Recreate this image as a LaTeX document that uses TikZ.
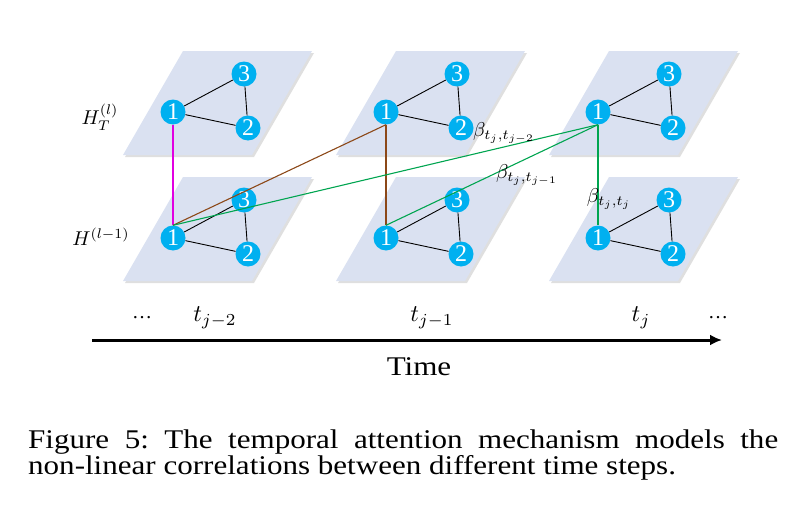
\documentclass[tikz,border=0pt]{standalone}
\usepackage{graphicx}
\usepackage{fontspec}
\setmainfont{Liberation Serif}
\newfontfamily\capfont[FakeStretch=1.15]{Liberation Serif}
\usetikzlibrary{arrows.meta}
\definecolor{planefill}{RGB}{218,225,241}
\definecolor{nodecyan}{RGB}{0,176,240}
\definecolor{linkmag}{RGB}{225,0,225}
\definecolor{linkbrown}{RGB}{140,72,24}
\definecolor{linkgreen}{RGB}{0,165,80}
\newcommand{\dblsize}[1]{\scalebox{2}{\fontsize{10}{12}\selectfont #1}}
\newcommand{\axsize}[1]{\scalebox{2.4}{\fontsize{10}{12}\selectfont #1}}
\frenchspacing
\begin{document}
\begin{tikzpicture}[x=1pt,y=-1pt,
  plane/.style={fill=planefill},
  planeshadow/.style={fill=black!25,opacity=0.5},
  vert/.style={circle,fill=nodecyan,minimum size=25pt,inner sep=0pt,text=white,
    font=\fontsize{24}{24}\selectfont},
  edge/.style={black,line width=0.9pt},
  link/.style={line width=1.1pt},
  lab/.style={inner sep=0pt},
  capline/.style={anchor=base west,inner sep=0pt,font=\capfont\fontsize{27}{30}\selectfont}]
\useasboundingbox (0,0) rectangle (801,506);

% planes
\foreach \dx in {0,213,426}{
  \foreach \dy in {0,126}{
    \fill[planeshadow] (185+\dx,53+\dy) -- (314+\dx,53+\dy) -- (254+\dx,157+\dy) -- (125+\dx,157+\dy) -- cycle;
    \fill[plane] (183+\dx,51+\dy) -- (312+\dx,51+\dy) -- (252+\dx,155+\dy) -- (123+\dx,155+\dy) -- cycle;
  }
}

% graphs
\foreach \c/\dx in {0/0,1/213,2/425}{
  \foreach \r/\dy in {T/0,B/126}{
    \node[vert] (\r\c-1) at (173+\dx,112+\dy) {1};
    \node[vert] (\r\c-3) at (244+\dx,74+\dy) {3};
    \node[vert] (\r\c-2) at (248+\dx,128+\dy) {2};
    \draw[edge] (\r\c-1) -- (\r\c-3);
    \draw[edge] (\r\c-1) -- (\r\c-2);
    \draw[edge] (\r\c-3) -- (\r\c-2);
  }
}

% attention links
\draw[link,linkmag] (T0-1.south) -- (B0-1.north);
\draw[link,linkbrown] (B0-1.north) -- (T1-1.south);
\draw[link,linkbrown] (T1-1.south) -- (B1-1.north);
\draw[link,linkgreen] (T2-1.south) -- (B0-1.north);
\draw[link,linkgreen] (T2-1.south) -- (B1-1.north);
\draw[link,linkgreen] (T2-1.south) -- (B2-1.north);

% labels
\node[lab] (bl2) at (504,133) {\dblsize{$\beta_{t_j,t_{j-2}}$}};
\node[lab] (bl1) at (527,175) {\dblsize{$\beta_{t_j,t_{j-1}}$}};
\node[lab] (bl0) at (609,199) {\dblsize{$\beta_{t_j,t_j}$}};
\node[lab] (hT) at (100,117) {\dblsize{$H_T^{(l)}$}};
\node[lab] (hB) at (101,237) {\dblsize{$H^{(l-1)}$}};

% time axis
\coordinate (ta) at (92,340);
\coordinate (tb) at (722,340);
\draw[line width=3pt,-{Latex[length=12pt,width=11pt]}] (ta) -- (tb);
\node[lab] (d1) at (142,318) {\dblsize{…}};
\node[lab] (tm2) at (215,318) {\axsize{$t_{j-2}$}};
\node[lab] (tm1) at (432,318) {\axsize{$t_{j-1}$}};
\node[lab] (tm0) at (641,318) {\axsize{$t_j$}};
\node[lab] (d2) at (718,318) {\dblsize{…}};
\node[anchor=base,inner sep=0pt,font=\capfont\fontsize{27}{30}\selectfont] (time) at (419,375) {Time};

% caption
\node[capline] (cap1) at (28,448) {\makebox[750pt][s]{Figure 5: The temporal attention mechanism models the}};
\node[capline] (cap2) at (28,474) {non-linear correlations between different time steps.};
\end{tikzpicture}
\end{document}
